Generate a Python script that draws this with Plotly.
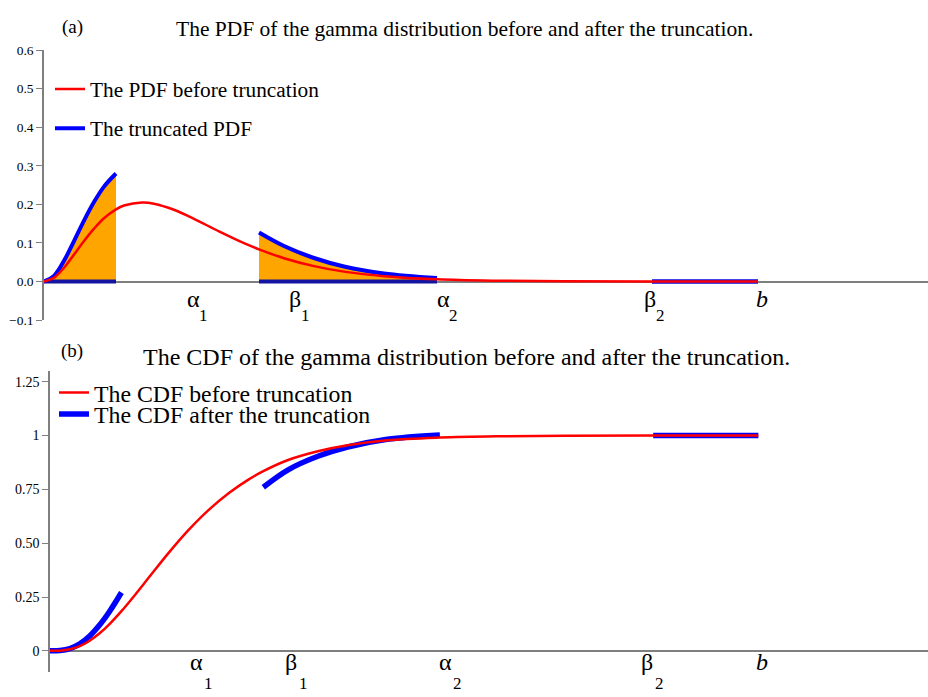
import plotly.graph_objects as go

# ---------------- data ----------------
# x positions in arbitrary units (the reference shows no numeric x ticks)
x_pdf = [0, 0.10, 0.20, 0.30, 0.40, 0.50, 0.60, 0.72, 0.80, 0.98, 1.10, 1.30, 1.50,
         1.75, 2.00, 2.15, 2.40, 2.70, 3.00, 3.40, 3.93, 4.50, 5.20, 6.08, 7.14]
pdf_before = [0, 0.0098, 0.0358, 0.0699, 0.105, 0.137, 0.164, 0.187, 0.197, 0.205, 0.2018,
              0.186, 0.1626, 0.130, 0.0994, 0.0834, 0.0605, 0.040, 0.0257, 0.0138, 0.0058,
              0.0022, 0.0006, 0.0001, 0.0]

x_trunc1 = [0, 0.10, 0.20, 0.30, 0.40, 0.50, 0.60, 0.72]
pdf_trunc1 = [0, 0.0147, 0.0537, 0.105, 0.158, 0.206, 0.246, 0.280]
x_trunc2 = [2.15, 2.40, 2.70, 3.00, 3.40, 3.93]
pdf_trunc2 = [0.127, 0.092, 0.061, 0.039, 0.021, 0.009]
x_trunc3 = [6.08, 7.14]
pdf_trunc3 = [0.0002, 0.0]

x_cdf = [0, 0.10, 0.20, 0.30, 0.40, 0.50, 0.60, 0.72, 0.85, 1.00, 1.20, 1.40, 1.60,
         1.80, 2.00, 2.15, 2.40, 2.70, 3.00, 3.40, 3.93, 4.50, 5.20, 6.08, 7.14]
cdf_before = [0, 0.0009, 0.0071, 0.0220, 0.0469, 0.0814, 0.1243, 0.1842, 0.2561, 0.3427,
              0.4573, 0.5629, 0.6549, 0.7323, 0.7955, 0.8346, 0.8864, 0.9270, 0.9548,
              0.9780, 0.9907, 0.9966, 0.9991, 0.9998, 1.0]
cdf_trunc1 = [0, 0.0013, 0.0104, 0.0323, 0.0689, 0.1197, 0.1827, 0.2708]
cdf_trunc2 = [0.760, 0.841, 0.904, 0.947, 0.983, 1.003]
cdf_trunc3 = [1.0, 1.0]

label_base = ["α", "β", "α", "β", "<i>b</i>"]
label_sub = ["1", "1", "2", "2", ""]
label_x_pdf = [1.49, 2.51, 3.99, 6.06, 7.18]
label_x_cdf = [1.48, 2.43, 3.99, 6.02, 7.18]

pdf_ticks = [-0.1, 0.0, 0.1, 0.2, 0.3, 0.4, 0.5, 0.6]
pdf_ticktext = ["−0.1", "0.0", "0.1", "0.2", "0.3", "0.4", "0.5", "0.6"]
cdf_ticks = [0, 0.25, 0.5, 0.75, 1.0, 1.25]
cdf_ticktext = ["0", "0.25", "0.50", "0.75", "1", "1.25"]

title_a = "The PDF of the gamma distribution before and after the truncation."
title_b = "The CDF of the gamma distribution before and after the truncation."

# ---------------- style ----------------
FONT = "Liberation Serif"
RED = "#ff0000"
BLUE = "#0000ff"
BASE_BLUE = "#1414a0"
ORANGE = "#ffa500"
GRAY = "#7f7f7f"
W, H = 928, 697

fig = go.Figure()

# ---------- top panel: PDF ----------
segments_pdf = [(x_trunc1, pdf_trunc1), (x_trunc2, pdf_trunc2), (x_trunc3, pdf_trunc3)]
for xs, ys in segments_pdf:
    fig.add_trace(go.Scatter(x=xs, y=ys, mode="lines", line=dict(width=0, shape="spline"),
                             fill="tozeroy", fillcolor=ORANGE, showlegend=False,
                             hoverinfo="skip", xaxis="x", yaxis="y"))
for xs, ys in segments_pdf:
    fig.add_trace(go.Scatter(x=[xs[0], xs[-1]], y=[0, 0], mode="lines",
                             line=dict(color=BASE_BLUE, width=4), showlegend=False,
                             xaxis="x", yaxis="y"))
for i, (xs, ys) in enumerate(segments_pdf):
    fig.add_trace(go.Scatter(x=xs, y=ys, mode="lines",
                             line=dict(color=BLUE, width=4, shape="spline"),
                             name="The truncated PDF", showlegend=(i == 0),
                             legend="legend2", xaxis="x", yaxis="y"))
fig.add_trace(go.Scatter(x=x_pdf, y=pdf_before, mode="lines",
                         line=dict(color=RED, width=2.5, shape="spline"),
                         name="The PDF before truncation", legend="legend",
                         xaxis="x", yaxis="y"))

# ---------- bottom panel: CDF ----------
segments_cdf = [(x_trunc1, cdf_trunc1), (x_trunc2, cdf_trunc2), (x_trunc3, cdf_trunc3)]
for i, (xs, ys) in enumerate(segments_cdf):
    fig.add_trace(go.Scatter(x=xs, y=ys, mode="lines",
                             line=dict(color=BLUE, width=5.5, shape="spline"),
                             name="The CDF after the truncation", showlegend=(i == 0),
                             legend="legend4", xaxis="x2", yaxis="y2"))
fig.add_trace(go.Scatter(x=x_cdf, y=cdf_before, mode="lines",
                         line=dict(color=RED, width=2.5, shape="spline"),
                         name="The CDF before truncation", legend="legend3",
                         xaxis="x2", yaxis="y2"))

# ---------- annotations ----------
ann = []
for xb, base, sub in zip(label_x_pdf, label_base, label_sub):
    ann.append(dict(x=xb, y=-0.044, xref="x", yref="y", text=base, showarrow=False,
                    font=dict(family=FONT, size=24, color="black"), xanchor="center",
                    yanchor="middle"))
    if sub:
        ann.append(dict(x=xb, y=-0.044, xref="x", yref="y", text=sub, showarrow=False,
                        xshift=10, yshift=-17, font=dict(family=FONT, size=17, color="black"),
                        xanchor="center", yanchor="middle"))
for xb, base, sub in zip(label_x_cdf, label_base, label_sub):
    ann.append(dict(x=xb, y=-0.05, xref="x2", yref="y2", text=base, showarrow=False,
                    font=dict(family=FONT, size=24, color="black"), xanchor="center",
                    yanchor="middle"))
    if sub:
        ann.append(dict(x=xb, y=-0.05, xref="x2", yref="y2", text=sub, showarrow=False,
                        xshift=12, yshift=-22, font=dict(family=FONT, size=17, color="black"),
                        xanchor="center", yanchor="middle"))

ann.append(dict(x=72 / W, y=1 - 20 / H, xref="paper", yref="paper", text="(a)",
                showarrow=False, font=dict(family=FONT, size=19, color="black"),
                xanchor="center", yanchor="middle"))
ann.append(dict(x=464 / W, y=1 - 22 / H, xref="paper", yref="paper", text=title_a,
                showarrow=False, font=dict(family=FONT, size=21.5, color="black"),
                xanchor="center", yanchor="middle"))
ann.append(dict(x=72 / W, y=1 - 352 / H, xref="paper", yref="paper", text="(b)",
                showarrow=False, font=dict(family=FONT, size=19, color="black"),
                xanchor="center", yanchor="middle"))
ann.append(dict(x=466 / W, y=1 - 358 / H, xref="paper", yref="paper", text=title_b,
                showarrow=False, font=dict(family=FONT, size=24, color="black"),
                xanchor="center", yanchor="middle"))

def legend_box(xpx, ypx, size):
    return dict(x=xpx / W, y=1 - ypx / H, xanchor="left", yanchor="middle",
                bgcolor="rgba(0,0,0,0)", borderwidth=0, itemwidth=30,
                font=dict(family=FONT, size=size, color="black"))

xaxis_common = dict(showgrid=False, zeroline=False, showline=False, showticklabels=False,
                    ticks="")
yaxis_common = dict(showgrid=False, zeroline=True, zerolinecolor=GRAY, zerolinewidth=2,
                    showline=True, linecolor=GRAY, linewidth=1.5, ticks="outside",
                    ticklen=6, tickcolor=GRAY, tickwidth=1)

fig.update_layout(
    autosize=True,
    margin=dict(l=0, r=0, t=0, b=0),
    paper_bgcolor="white", plot_bgcolor="white",
    font=dict(family=FONT, color="black"),
    xaxis=dict(domain=[44 / W, 1], range=[0, 8.84], **xaxis_common),
    yaxis=dict(domain=[1 - 320 / H, 1 - 44 / H], range=[-0.1, 0.6], tickvals=pdf_ticks,
               ticktext=pdf_ticktext, tickfont=dict(family=FONT, size=13.5), anchor="x",
               **yaxis_common),
    xaxis2=dict(domain=[50 / W, 1], range=[0, 8.85], anchor="y2", **xaxis_common),
    yaxis2=dict(domain=[1 - 680 / H, 1 - 372 / H], range=[-0.1, 1.3], tickvals=cdf_ticks,
                ticktext=cdf_ticktext, tickfont=dict(family=FONT, size=14), anchor="x2",
                **yaxis_common),
    legend=legend_box(50, 84, 21.3),
    legend2=legend_box(50, 124, 21.3),
    legend3=legend_box(54, 394, 23.8),
    legend4=legend_box(54, 416, 23.8),
    annotations=ann,
    showlegend=True,
)

post = (
    "var de=document.documentElement, bd=document.body;"
    "de.style.margin='0'; de.style.padding='0'; de.style.height='100%'; de.style.overflow='hidden';"
    "bd.style.margin='0'; bd.style.padding='0'; bd.style.height='100%'; bd.style.overflow='hidden';"
    "var gd=document.getElementById('{plot_id}');"
    "gd.style.width='100vw'; gd.style.height='100vh';"
    "Plotly.Plots.resize(gd);"
)

fig.write_html("out.html", config={"displayModeBar": False, "responsive": True},
               post_script=post)
